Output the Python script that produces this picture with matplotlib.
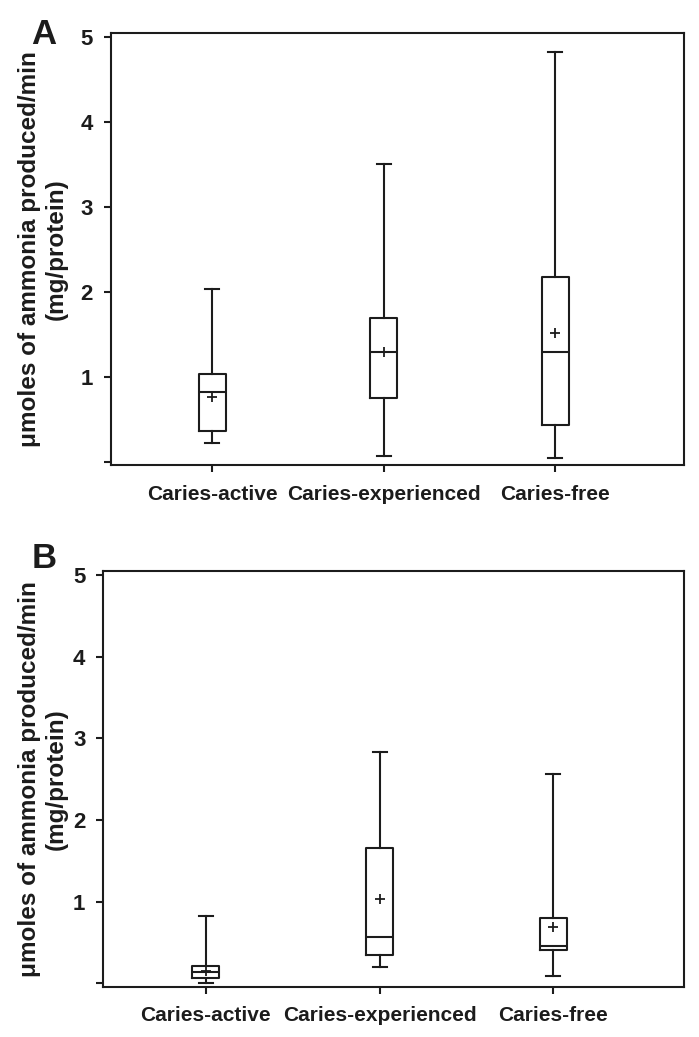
import matplotlib
matplotlib.use("Agg")
import matplotlib.pyplot as plt

plt.rcParams['font.family'] = ['Liberation Sans', 'DejaVu Sans']
plt.rcParams['font.weight'] = 'bold'

categories = ["Caries-active", "Caries-experienced", "Caries-free"]

# Panel A
a_whislo = [0.22, 0.064, 0.047]
a_q1     = [0.362, 0.748, 0.433]
a_med    = [0.818, 1.29, 1.29]
a_mean   = [0.76, 1.29, 1.52]
a_q3     = [1.03, 1.698, 2.178]
a_whishi = [2.04, 3.507, 4.82]

# Panel B
b_whislo = [0.004, 0.2, 0.095]
b_q1     = [0.063, 0.35, 0.41]
b_med    = [0.139, 0.565, 0.46]
b_mean   = [0.15, 1.035, 0.69]
b_q3     = [0.214, 1.66, 0.805]
b_whishi = [0.822, 2.835, 2.565]

ytick_vals = [0, 1, 2, 3, 4, 5]
ytick_labels = ["", "1", "2", "3", "4", "5"]
ylabel = "\u03bcmoles of ammonia produced/min\n(mg/protein)"
panel_letters = ["A", "B"]

INK = '#1c1c1c'

fig = plt.figure(figsize=(6.99, 10.37), dpi=100)
axA = fig.add_axes([0.1588, 0.5513, 0.9785 - 0.1588, 0.9685 - 0.5513])
axB = fig.add_axes([0.148, 0.0485, 0.978 - 0.148, 0.4494 - 0.0485])


def draw(ax, lo, q1, med, mean, q3, hi):
    stats = []
    for i in range(len(categories)):
        stats.append(dict(whislo=lo[i], q1=q1[i], med=med[i], mean=mean[i],
                          q3=q3[i], whishi=hi[i], fliers=[], label=categories[i]))
    ax.bxp(stats, positions=[1, 2, 3], widths=0.155, showmeans=True,
           showfliers=False, capwidths=0.08,
           boxprops=dict(color=INK, linewidth=1.5),
           whiskerprops=dict(color=INK, linewidth=1.5),
           capprops=dict(color=INK, linewidth=1.5),
           medianprops=dict(color=INK, linewidth=1.5),
           meanprops=dict(marker='+', markeredgecolor=INK,
                          markerfacecolor=INK, markersize=7,
                          markeredgewidth=1.3))
    ax.set_xlim(0.41, 3.75)
    ax.set_ylim(-0.04, 5.05)
    ax.set_yticks(ytick_vals)
    ax.set_yticklabels(ytick_labels, fontsize=16, fontweight='bold', color=INK)
    ax.set_xticks([1, 2, 3])
    ax.set_xticklabels(categories, fontsize=15, fontweight='bold', color=INK)
    ax.tick_params(axis='y', direction='out', length=5, width=1.5, pad=8,
                   color=INK)
    ax.tick_params(axis='x', direction='out', length=5, width=1.5, pad=9,
                   color=INK)
    for s in ax.spines.values():
        s.set_linewidth(1.5)
        s.set_color(INK)
    ax.set_ylabel(ylabel, fontsize=17.5, fontweight='bold', color=INK,
                  linespacing=1.25)


draw(axA, a_whislo, a_q1, a_med, a_mean, a_q3, a_whishi)
draw(axB, b_whislo, b_q1, b_med, b_mean, b_q3, b_whishi)
axA.yaxis.set_label_coords(-0.075, 0.5)
axB.yaxis.set_label_coords(-0.061, 0.5)

fig.text(0.045, 0.958, panel_letters[0], fontsize=25, fontweight='bold',
         color=INK, va='baseline', ha='left')
fig.text(0.045, 0.452, panel_letters[1], fontsize=25, fontweight='bold',
         color=INK, va='baseline', ha='left')

fig.savefig("out.png", dpi=100)
